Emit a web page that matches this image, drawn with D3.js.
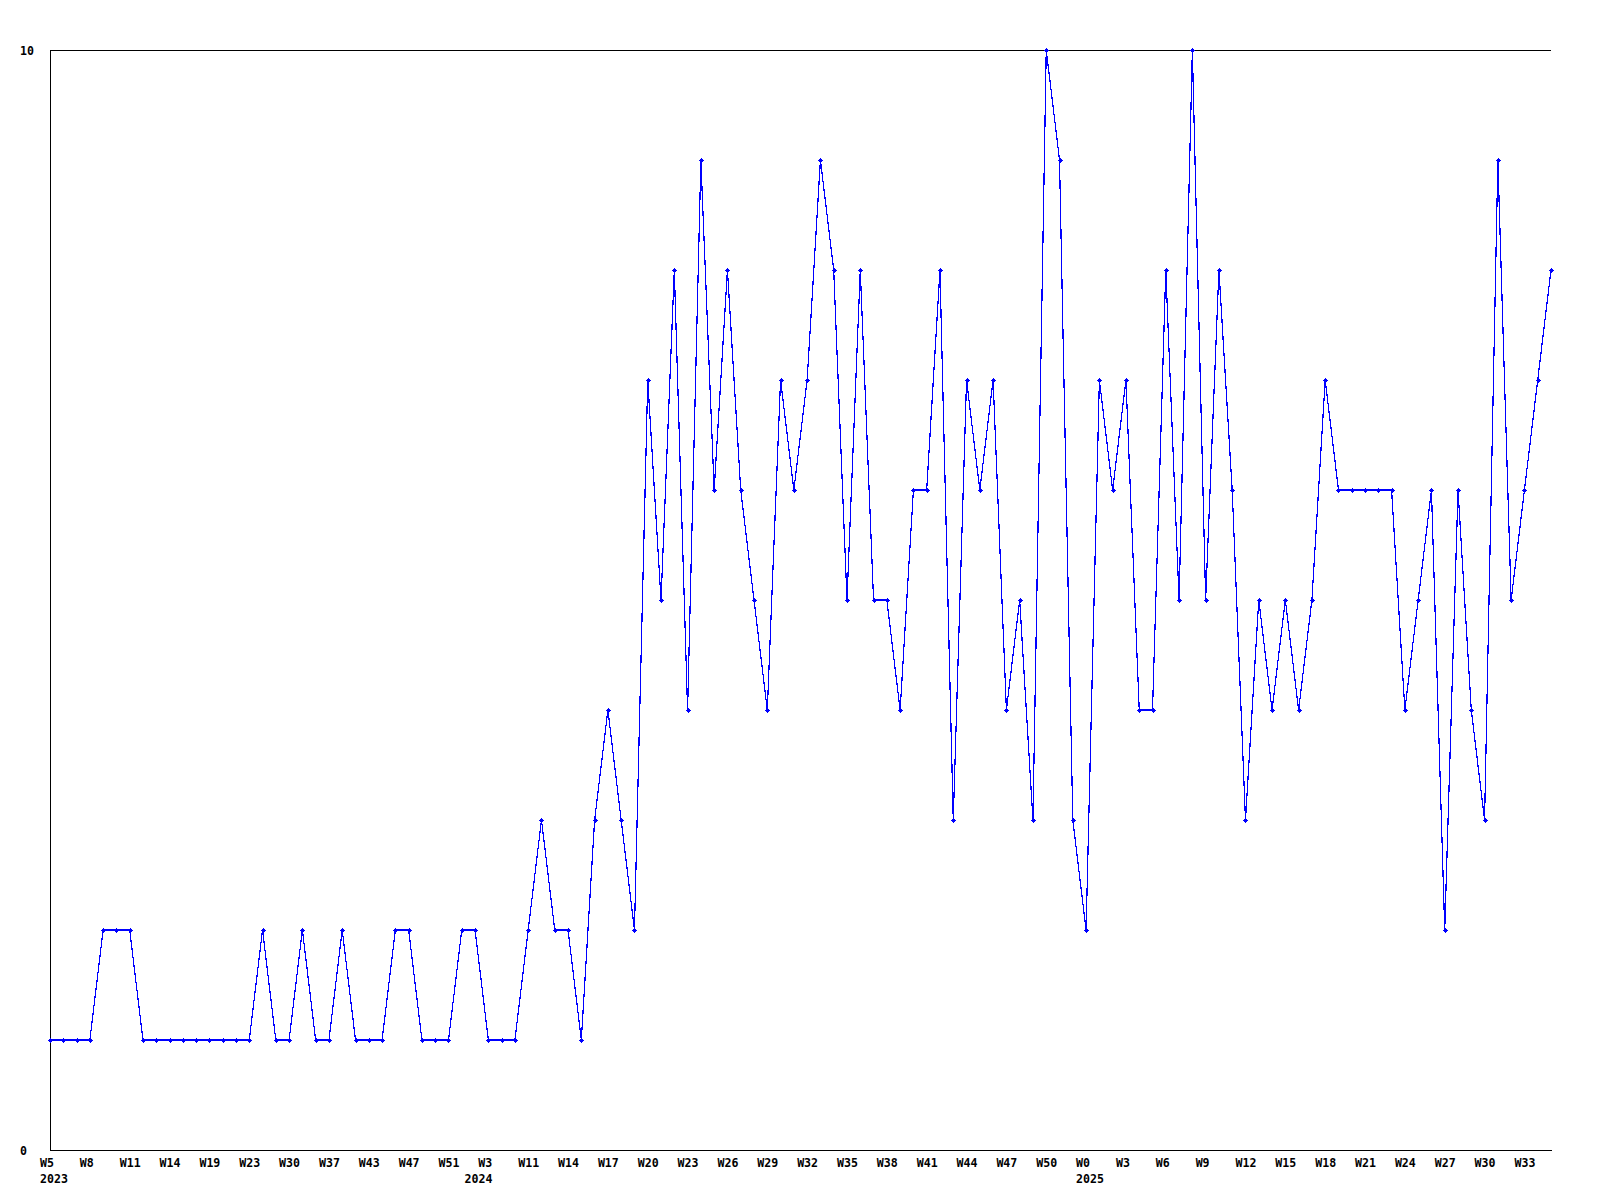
<!DOCTYPE html>
<html>
<head>
<meta charset="utf-8">
<script src="https://cdn.jsdelivr.net/npm/d3@7"></script>
<style>
  html, body { margin: 0; padding: 0; background: #ffffff; }
  svg { display: block; }
  text { font-family: "DejaVu Sans Mono", "Liberation Mono", monospace; font-weight: bold; font-size: 11.6px; fill: #000; }
</style>
</head>
<body>
<script>
// ---- data ----
const values = [
  1,1,1,1,2,2,2,1,1,1,1,1,1,1,1,1,2,1,1,2,1,1,2,1,1,1,2,2,1,1,1,2,2,1,1,1,2,
  3,2,2,1,3,4,3,2,7,5,8,4,9,6,8,6,5,4,7,6,7,9,8,5,8,5,5,4,6,6,8,3,7,6,
  7,4,5,3,10,9,3,2,7,6,7,4,4,8,5,10,5,8,6,3,5,4,5,4,5,7,6,6,6,6,6,4,5,
  6,2,6,4,3,9,5,6,7,8
];
// week tick labels, one every 3 points starting at the first point
const weekTickLabels = [
  "W5","W8","W11","W14","W19","W23","W30","W37","W43","W47","W51",
  "W3","W11","W14","W17","W20","W23","W26","W29","W32","W35","W38","W41","W44","W47","W50",
  "W0","W3","W6","W9","W12","W15","W18","W21","W24","W27","W30","W33"
];
const tickStep = 3;
const yearLabels = ["2023","2024","2025"];
const yearTickIndex = [0, 33, 78];
const yTickValues = [0, 10];

(function () {
// ---- layout ----
const W = 1600, H = 1200;
const mLeft = 50, mRight = 1551, mTop = 50, mBottom = 1150;

const svg = d3.select("body").append("svg").attr("width", W).attr("height", H);

const x = d3.scalePoint().domain(d3.range(values.length)).range([mLeft, mRight]);
const y = d3.scaleLinear().domain([0, 10]).range([mBottom, mTop]);

// top frame line
svg.append("line")
  .attr("x1", mLeft).attr("x2", mRight)
  .attr("y1", y(10) + 0.5).attr("y2", y(10) + 0.5)
  .attr("stroke", "#000").attr("stroke-width", 1)
  .attr("shape-rendering", "crispEdges");

// bottom axis with week labels
const weekIdx = weekTickLabels.map((_, k) => k * tickStep);
const xAxis = d3.axisBottom(x)
  .tickValues(weekIdx)
  .tickSize(0)
  .tickSizeOuter(0)
  .tickFormat(i => weekTickLabels[i / tickStep]);
const gx = svg.append("g").attr("transform", `translate(0,${mBottom})`).call(xAxis);
gx.select(".domain").attr("stroke", "#000").attr("shape-rendering", "crispEdges");
gx.selectAll(".tick text")
  .attr("text-anchor", "start")
  .attr("x", -10.5)
  .attr("y", 17)
  .attr("dy", null);
gx.attr("font-family", null).attr("font-size", null);

// year labels (second row)
const yearAxis = d3.axisBottom(x)
  .tickValues(yearTickIndex)
  .tickSize(0)
  .tickSizeOuter(0)
  .tickFormat(i => yearLabels[yearTickIndex.indexOf(i)]);
const gy2 = svg.append("g").attr("transform", `translate(0,${mBottom})`).call(yearAxis);
gy2.select(".domain").remove();
gy2.selectAll(".tick text")
  .attr("text-anchor", (d) => yearLabels[yearTickIndex.indexOf(d)] === "2024" ? "end" : "start")
  .attr("x", (d) => yearLabels[yearTickIndex.indexOf(d)] === "2024" ? 3.6 : -10.5)
  .attr("y", 33)
  .attr("dy", null);
gy2.attr("font-family", null).attr("font-size", null);

// left axis
const yAxis = d3.axisLeft(y).tickValues(yTickValues).tickSize(0).tickSizeOuter(0).tickFormat(d3.format("d"));
const gyAx = svg.append("g").attr("transform", `translate(${mLeft},0)`).call(yAxis);
gyAx.select(".domain").attr("stroke", "#000").attr("shape-rendering", "crispEdges");
gyAx.selectAll(".tick text")
  .attr("text-anchor", "start")
  .attr("x", 20 - mLeft)
  .attr("dy", null)
  .attr("y", 4);
gyAx.attr("font-family", null).attr("font-size", null);

// data line
const line = d3.line().x((d, i) => x(i)).y(d => y(d));
svg.append("path")
  .datum(values)
  .attr("d", line)
  .attr("fill", "none")
  .attr("stroke", "#0000ff")
  .attr("stroke-width", 1.2)
  .attr("shape-rendering", "crispEdges");

// point markers (small plus)
const plus = "M-2.5,-0.5H2.5V0.5H-2.5Z M-0.5,-2.5H0.5V2.5H-0.5Z M-1.5,-1.5H1.5V1.5H-1.5Z";
svg.append("g").selectAll("path")
  .data(values)
  .join("path")
  .attr("transform", (d, i) => `translate(${Math.round(x(i)) + 0.5},${Math.round(y(d)) + 0.5})`)
  .attr("d", plus)
  .attr("fill", "#0000ff")
  .attr("shape-rendering", "crispEdges");
})();
</script>
</body>
</html>
